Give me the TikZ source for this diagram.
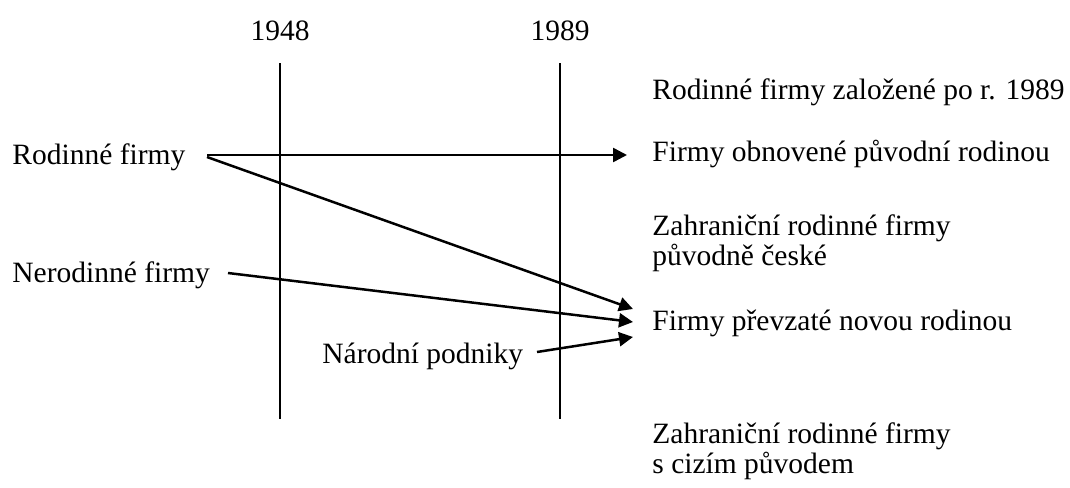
\documentclass[tikz,border=0pt]{standalone}
\usepackage{fontspec}
\setmainfont{Liberation Serif}
\usepackage{tikz}
\usetikzlibrary{arrows.meta}

\tikzset{
  txt/.style={inner sep=0pt, anchor=base west, font=\fontsize{14.75pt}{15pt}\selectfont, align=left},
  year/.style={inner sep=0pt, anchor=base, font=\fontsize{14.75pt}{15pt}\selectfont},
  pfeil/.style={line width=1.25pt, -{Triangle[length=7pt,width=7pt]}}
}

\begin{document}
\begin{tikzpicture}[x=0.5pt,y=-0.5pt]
\useasboundingbox (0,0) rectangle (1070,487);
% Zeitachse
\node[year] (j1948) at (280,40) {1948};
\node[year] (j1989) at (560,40) {1989};
\coordinate (o1948) at (280,63);
\coordinate (u1948) at (280,419);
\coordinate (o1989) at (560,63);
\coordinate (u1989) at (560,419);
\draw[line width=1.25pt] (o1948) -- (u1948);
\draw[line width=1.25pt] (o1989) -- (u1989);
% links
\node[txt] (rodinne) at (12,164) {Rodinné firmy};
\node[txt] (nerodinne) at (12,282) {Nerodinné firmy};
\node[txt] (narodni) at (322,363) {Národní podniky};
% rechts
\node[txt] (nove) at (652,99) {Rodinné firmy založené po r. 1989};
\node[txt] (obnovene) at (652,161) {Firmy obnovené původní rodinou};
\node[txt] (zahrCeske) at (652,265) {Zahraniční rodinné firmy\\původně české};
\node[txt] (prevzate) at (652,330) {Firmy převzaté novou rodinou};
\node[txt] (zahrCizi) at (652,473) {Zahraniční rodinné firmy\\s cizím původem};
% Pfeile
\coordinate (rfA) at (207,155);
\coordinate (rfB) at (207,157);
\coordinate (nfA) at (228,273);
\coordinate (npA) at (537,352);
\coordinate (obE) at (627,155);
\coordinate (prE1) at (633,309);
\coordinate (prE2) at (633,322);
\coordinate (prE3) at (633,337);
\draw[pfeil] (rfA) -- (obE);
\draw[pfeil] (rfB) -- (prE1);
\draw[pfeil] (nfA) -- (prE2);
\draw[pfeil] (npA) -- (prE3);
\end{tikzpicture}
\end{document}
